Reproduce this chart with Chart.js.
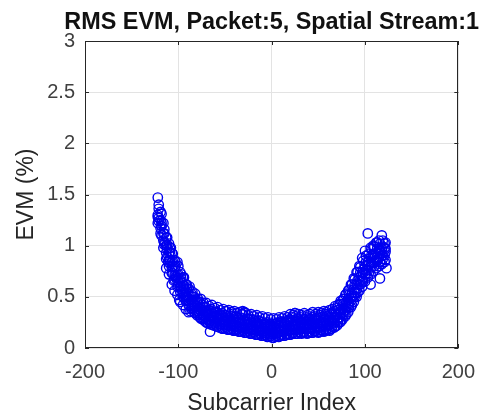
<!DOCTYPE html>
<html>
<head>
<meta charset="utf-8">
<script src="https://cdn.jsdelivr.net/npm/chart.js@4/dist/chart.umd.min.js"></script>
<style>
  html, body { margin: 0; padding: 0; background: #ffffff; }
  #wrap { width: 487px; height: 418px; }
</style>
</head>
<body>
<div id="wrap"><canvas id="c" width="487" height="418"></canvas></div>
<script>
const chartTitle = 'RMS EVM, Packet:5, Spatial Stream:1';

// Subcarrier indices, two interleaved sets
const subcarriers = [-122,-119,-116,-113,-110,-107,-104,-101,-98,-95,-92,-89,-86,-83,-80,-77,-74,-71,-68,-65,-62,-59,-56,-53,-50,-47,-44,-41,-38,-35,-32,-29,-26,-23,-20,-17,-14,-11,-8,-5,-2,1,4,7,10,13,16,19,22,25,28,31,34,37,40,43,46,49,52,55,58,61,64,67,70,73,76,79,82,85,88,91,94,97,100,103,106,109,112,115,118,121];
const subcarriers2 = [-121,-118,-115,-112,-109,-106,-103,-100,-97,-94,-91,-88,-85,-82,-79,-76,-73,-70,-67,-64,-61,-58,-55,-52,-49,-46,-43,-40,-37,-34,-31,-28,-25,-22,-19,-16,-13,-10,-7,-4,-1,2,5,8,11,14,17,20,23,26,29,32,35,38,41,44,47,50,53,56,59,62,65,68,71,74,77,80,83,86,89,92,95,98,101,104,107,110,113,116,119,122];

// EVM (%), one array per group of OFDM symbols
const evmA = [1.47,1.33,1.22,1.08,1.02,0.93,0.86,0.84,0.74,0.69,0.62,0.58,0.53,0.50,0.46,0.45,0.42,0.40,0.37,0.38,0.35,0.35,0.33,0.34,0.32,0.31,0.33,0.30,0.31,0.29,0.33,0.35,0.29,0.28,0.28,0.26,0.27,0.25,0.24,0.25,0.23,0.22,0.24,0.25,0.26,0.25,0.27,0.28,0.30,0.34,0.29,0.30,0.28,0.30,0.29,0.30,0.31,0.30,0.32,0.31,0.33,0.32,0.34,0.36,0.39,0.43,0.46,0.52,0.56,0.62,0.68,0.74,0.80,0.88,0.95,1.12,0.98,1.00,1.03,1.05,1.10,1.02];
const evmB = [1.30,1.25,1.12,1.00,0.93,0.84,0.79,0.71,0.66,0.61,0.55,0.51,0.47,0.44,0.41,0.38,0.37,0.35,0.33,0.31,0.31,0.29,0.29,0.28,0.27,0.27,0.26,0.26,0.25,0.25,0.24,0.24,0.23,0.23,0.22,0.22,0.21,0.21,0.20,0.19,0.19,0.18,0.19,0.19,0.20,0.21,0.21,0.22,0.22,0.23,0.23,0.24,0.23,0.24,0.24,0.23,0.25,0.24,0.25,0.25,0.26,0.27,0.28,0.30,0.32,0.35,0.38,0.42,0.47,0.51,0.57,0.63,0.69,0.74,0.80,0.84,0.88,0.91,0.93,0.96,0.97,0.98];
const evmC = [1.28,1.17,1.05,0.93,0.86,0.79,0.71,0.66,0.60,0.55,0.50,0.46,0.42,0.39,0.36,0.34,0.32,0.30,0.28,0.27,0.26,0.25,0.24,0.23,0.23,0.22,0.22,0.21,0.21,0.20,0.20,0.19,0.19,0.18,0.18,0.17,0.17,0.16,0.15,0.15,0.14,0.14,0.14,0.15,0.16,0.16,0.17,0.17,0.18,0.18,0.18,0.19,0.19,0.19,0.19,0.19,0.20,0.20,0.20,0.21,0.21,0.22,0.23,0.25,0.27,0.30,0.33,0.37,0.41,0.46,0.51,0.57,0.62,0.67,0.72,0.76,0.80,0.83,0.86,0.88,0.90,0.91];
const evmD = [1.22,1.12,0.98,0.87,0.80,0.73,0.67,0.60,0.55,0.50,0.46,0.42,0.38,0.35,0.32,0.30,0.28,0.26,0.24,0.23,0.22,0.21,0.20,0.19,0.19,0.18,0.18,0.17,0.17,0.16,0.16,0.15,0.15,0.14,0.14,0.13,0.13,0.12,0.12,0.11,0.11,0.10,0.11,0.11,0.12,0.12,0.13,0.13,0.14,0.14,0.14,0.15,0.15,0.15,0.15,0.15,0.16,0.16,0.16,0.17,0.17,0.18,0.19,0.20,0.22,0.25,0.28,0.31,0.35,0.40,0.45,0.50,0.56,0.60,0.65,0.69,0.72,0.75,0.78,0.80,0.82,0.84];
const evmE = [1.40,1.31,1.16,1.08,0.98,0.92,0.84,0.80,0.72,0.69, 0.62,0.60,0.55,0.53,0.48,0.48,0.44,0.44,0.41,0.42, 0.39,0.40,0.37,0.38,0.36,0.37,0.35,0.36,0.34,0.35, 0.33,0.34,0.32,0.33,0.31,0.32,0.30,0.31,0.29,0.30, 0.28,0.29,0.28,0.30,0.29,0.31,0.30,0.33,0.32,0.31, 0.33,0.32,0.34,0.32,0.33,0.35,0.33,0.35,0.34,0.36, 0.35,0.37,0.38,0.41,0.42,0.46,0.48,0.53,0.57,0.62, 0.67,0.74,0.79,0.85,0.90,0.92,0.97,0.99,1.03,1.02, 1.05,1.03];
const evmF = [1.36,1.22,1.12,1.01,0.94,0.85,0.80,0.72,0.68,0.61, 0.58,0.52,0.50,0.45,0.44,0.40,0.40,0.36,0.37,0.34, 0.35,0.32,0.33,0.30,0.32,0.29,0.31,0.28,0.30,0.27, 0.29,0.26,0.28,0.25,0.27,0.24,0.26,0.23,0.24,0.22, 0.23,0.21,0.24,0.22,0.25,0.24,0.26,0.25,0.27,0.25, 0.28,0.26,0.28,0.26,0.28,0.27,0.29,0.27,0.30,0.28, 0.31,0.29,0.33,0.33,0.37,0.38,0.43,0.45,0.52,0.54, 0.62,0.66,0.74,0.77,0.84,0.85,0.91,0.92,0.97,0.96, 0.99,0.97];
const evmG = [1.27,1.19,1.03,0.97,0.85,0.80,0.71,0.68,0.60,0.57, 0.50,0.48,0.42,0.41,0.36,0.36,0.32,0.32,0.29,0.30, 0.27,0.28,0.25,0.26,0.24,0.25,0.23,0.24,0.22,0.23, 0.21,0.22,0.20,0.21,0.19,0.20,0.18,0.19,0.17,0.18, 0.16,0.17,0.16,0.18,0.17,0.19,0.18,0.20,0.19,0.21, 0.20,0.22,0.20,0.22,0.20,0.23,0.21,0.23,0.22,0.24, 0.23,0.25,0.25,0.29,0.29,0.34,0.35,0.41,0.44,0.50, 0.54,0.62,0.66,0.73,0.76,0.81,0.83,0.88,0.89,0.92, 0.91,0.94];
const evmH = [1.24,1.10,1.01,0.89,0.83,0.73,0.69,0.61,0.57,0.50, 0.47,0.41,0.39,0.34,0.33,0.29,0.29,0.25,0.26,0.23, 0.24,0.21,0.22,0.19,0.21,0.18,0.20,0.17,0.19,0.16, 0.18,0.15,0.17,0.14,0.16,0.13,0.15,0.12,0.13,0.11, 0.12,0.10,0.12,0.11,0.13,0.12,0.14,0.13,0.15,0.14, 0.16,0.14,0.16,0.14,0.16,0.15,0.17,0.15,0.18,0.16, 0.19,0.17,0.21,0.21,0.25,0.26,0.32,0.33,0.40,0.42, 0.50,0.54,0.62,0.65,0.72,0.73,0.79,0.80,0.85,0.84, 0.87,0.86];

// Scattered outlying points
const extraX = [-98,-87,-66,-113,-108,-31,25,123,116,106,-110,-107,-104,-101,-99,-95,-92,-89,-111,-105];
const extraY = [0.45,0.36,0.16,0.78,0.98,0.36,0.34,0.78,0.68,0.62,0.72,0.62,0.56,0.52,0.47,0.42,0.38,0.35,0.84,0.66];

const xTicks = [-200,-100,0,100,200];
const yTicks = [0,0.5,1,1.5,2,2.5,3];

function pairs(xs, ys) { return xs.map((x, i) => ({ x: x, y: ys[i] })); }

const allPoints = []
  .concat(pairs(subcarriers, evmA))
  .concat(pairs(subcarriers, evmB))
  .concat(pairs(subcarriers, evmC))
  .concat(pairs(subcarriers, evmD))
  .concat(pairs(subcarriers2, evmE))
  .concat(pairs(subcarriers2, evmF))
  .concat(pairs(subcarriers2, evmG))
  .concat(pairs(subcarriers2, evmH))
  .concat(pairs(extraX, extraY));

// Title centred over the plot box (not squeezed into it)
const titlePlugin = {
  id: 'boxTitle',
  afterDraw(chart) {
    const ctx = chart.ctx;
    const a = chart.chartArea;
    ctx.save();
    ctx.font = 'bold 23.4px "Liberation Sans", Arial, sans-serif';
    ctx.fillStyle = '#111111';
    ctx.textAlign = 'center';
    ctx.textBaseline = 'alphabetic';
    ctx.fillText(chartTitle, (a.left + a.right) / 2, 29);
    ctx.restore();
  }
};

const boxPlugin = {
  id: 'box',
  afterDatasetsDraw(chart) {
    const ctx = chart.ctx;
    const a = chart.chartArea;
    const xs = chart.scales.x, ys = chart.scales.y;
    ctx.save();
    ctx.strokeStyle = '#262626';
    ctx.lineWidth = 1;
    ctx.strokeRect(Math.round(a.left) + 0.5, Math.round(a.top) + 0.5,
                   Math.round(a.right - a.left) - 1, Math.round(a.bottom - a.top) - 1);
    ctx.beginPath();
    const tl = 4;
    xTicks.forEach(v => {
      const px = Math.round(xs.getPixelForValue(v)) + 0.5;
      ctx.moveTo(px, a.bottom); ctx.lineTo(px, a.bottom - tl);
      ctx.moveTo(px, a.top); ctx.lineTo(px, a.top + tl);
    });
    yTicks.forEach(v => {
      const py = Math.round(ys.getPixelForValue(v)) + 0.5;
      ctx.moveTo(a.left, py); ctx.lineTo(a.left + tl, py);
      ctx.moveTo(a.right, py); ctx.lineTo(a.right - tl, py);
    });
    ctx.stroke();
    ctx.restore();
  }
};

new Chart(document.getElementById('c'), {
  type: 'scatter',
  data: {
    datasets: [{
      data: allPoints,
      pointStyle: 'circle',
      pointRadius: 4.7,
      pointHoverRadius: 4.7,
      borderWidth: 1.4,
      borderColor: '#0000f0',
      backgroundColor: 'rgba(0,0,0,0)'
    }]
  },
  options: {
    responsive: false,
    animation: false,
    layout: { padding: { left: 0, right: 24, top: 41, bottom: 0 } },
    plugins: {
      legend: { display: false },
      tooltip: { enabled: false },
      title: { display: false }
    },
    scales: {
      x: {
        type: 'linear',
        min: -200, max: 200,
        afterBuildTicks: s => { s.ticks = xTicks.map(v => ({ value: v })); },
        afterFit: s => { s.height = 70; },
        grid: { color: '#e3e3e3', drawTicks: false },
        border: { display: false },
        ticks: {
          padding: 12,
          color: '#404040',
          font: { family: '"Liberation Sans", Arial, sans-serif', size: 20 },
          maxRotation: 0,
          callback: v => String(v)
        },
        title: {
          display: true,
          text: 'Subcarrier Index',
          color: '#262626',
          font: { family: '"Liberation Sans", Arial, sans-serif', size: 23, lineHeight: 1.2 },
          padding: { top: 0, bottom: 1 }
        }
      },
      y: {
        type: 'linear',
        min: 0, max: 3,
        afterBuildTicks: s => { s.ticks = yTicks.map(v => ({ value: v })); },
        afterFit: s => { s.width = 85; },
        grid: { color: '#e3e3e3', drawTicks: false },
        border: { display: false },
        ticks: {
          padding: 10,
          color: '#404040',
          font: { family: '"Liberation Sans", Arial, sans-serif', size: 20 },
          callback: v => String(v)
        },
        title: {
          display: true,
          text: 'EVM (%)',
          color: '#262626',
          font: { family: '"Liberation Sans", Arial, sans-serif', size: 23, lineHeight: 1.2 },
          padding: { top: 13, bottom: 0 }
        }
      }
    }
  },
  plugins: [boxPlugin, titlePlugin]
});
</script>
</body>
</html>
